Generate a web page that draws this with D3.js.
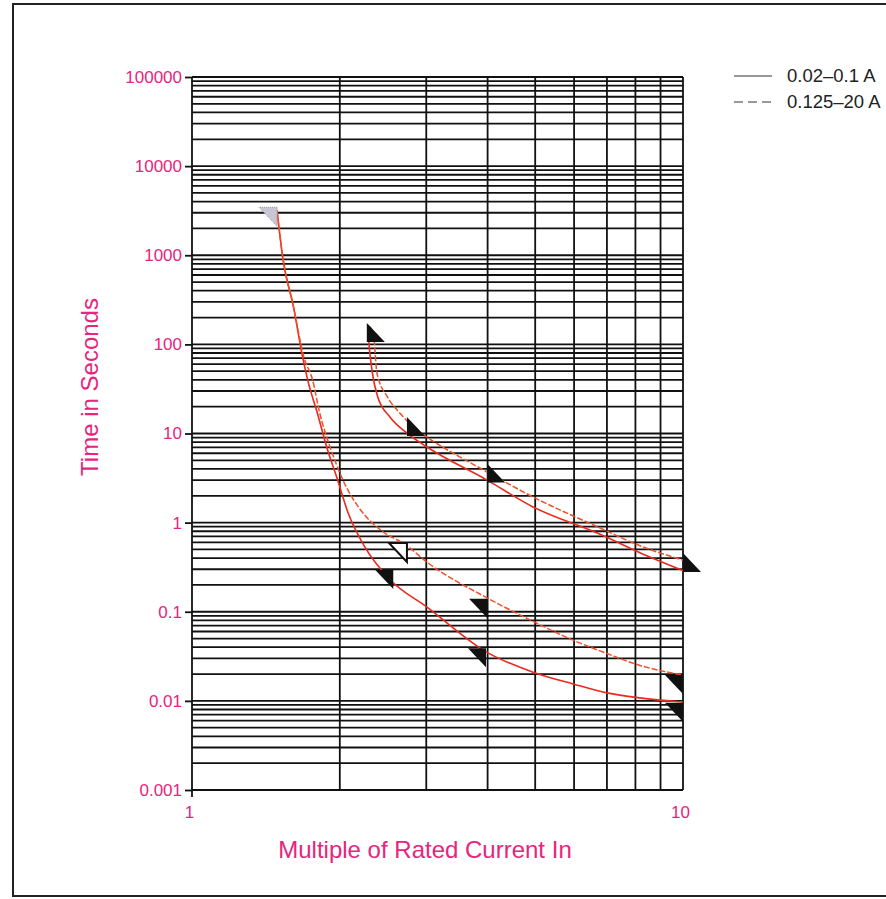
<!DOCTYPE html>
<html>
<head>
<meta charset="utf-8">
<script src="https://cdn.jsdelivr.net/npm/d3@7"></script>
<style>
  body { margin: 0; background: #fff; }
  svg text { font-family: "Liberation Sans", Arial, sans-serif; }
</style>
</head>
<body>
<div id="chart-area"></div>
<script>
// tick labels
var yTickValues = [0.001, 0.01, 0.1, 1, 10, 100, 1000, 10000, 100000];
var yTickLabels = ["0.001", "0.01", "0.1", "1", "10", "100", "1000", "10000", "100000"];
var xTickValues = [1, 10];
var xTickLabels = ["1", "10"];

// legend
var seriesNames = ["0.02\u20130.1 A", "0.125\u201320 A"];

// curves: [multiple of In, time in s]
var solidLeft = [[1.49, 3200], [1.53, 955], [1.61, 262], [1.68, 72], [1.72, 40], [1.80, 17], [1.88, 7.1],
    [1.98, 3.0], [2.08, 1.28], [2.25, 0.53], [2.53, 0.23], [3.01, 0.113], [3.99, 0.035], [4.95, 0.021],
    [5.97, 0.0155], [7.0, 0.0123], [8.17, 0.0108], [10, 0.0097]];
var dashedLeft = [[1.49, 3200], [1.53, 955], [1.61, 262], [1.69, 72], [1.76, 40], [1.82, 17], [1.91, 7.1],
    [2.03, 3.0], [2.23, 1.28], [2.42, 0.83], [2.74, 0.55], [3.01, 0.36], [3.99, 0.143], [4.88, 0.081],
    [5.97, 0.048], [7.0, 0.034], [8.17, 0.025], [10, 0.0195]];
var solidRight = [[2.28, 165], [2.29, 112], [2.33, 48], [2.39, 25.7], [2.53, 15.3], [2.74, 10.1], [3.01, 7.06],
    [3.99, 3.0], [4.95, 1.5], [6.78, 0.74], [8.17, 0.46], [10, 0.29]];
var dashedRight = [[2.28, 165], [2.34, 134], [2.38, 48], [2.50, 25.7], [2.65, 17], [2.87, 10.9], [3.01, 9.1],
    [3.99, 3.7], [4.95, 1.94], [6.78, 0.87], [8.17, 0.55], [10, 0.38]];

// triangle markers
var upperMarks = [[2.27, 174], [2.74, 15.3], [3.99, 4.6], [10, 0.456]];
var lowerMarks = [[2.57, 0.294], [3.99, 0.14], [3.97, 0.039], [10, 0.0195], [10, 0.0095]];
var openMarks = [[2.74, 0.59]];
var fadedMarks = [[1.49, 3450]];

var W = 886, H = 899;
var pink = "#e8247e";
var red = "#ea2a1c";

var svg = d3.select("#chart-area")
    .append("svg")
        .attr("width", W)
        .attr("height", H);

// frame
svg.append("path")
    .attr("d", "M886,4 H13 V896 H886")
    .attr("fill", "none")
    .attr("stroke", "#222")
    .attr("stroke-width", 2);

var x = d3.scaleLog().domain([1, 10]).range([192, 683]);
var y = d3.scaleLog().domain([0.001, 100000]).range([790, 77]);

// grid
var grid = svg.append("g").attr("stroke", "#111").attr("stroke-width", 1.8);
grid.selectAll(".h")
    .data(y.ticks())
    .enter().append("line")
        .attr("x1", x(1)).attr("x2", x(10))
        .attr("y1", d => y(d)).attr("y2", d => y(d));
grid.selectAll(".v")
    .data(x.ticks())
    .enter().append("line")
        .attr("x1", d => x(d)).attr("x2", d => x(d))
        .attr("y1", y(100000)).attr("y2", d => d == 1 ? y(0.001) + 7 : y(0.001));

// Y axis
var yAxis = svg.append("g")
    .attr("transform", "translate(" + x(1) + ",0)")
    .call(d3.axisLeft(y).tickValues(yTickValues).tickSize(7).tickPadding(3)
        .tickFormat((d, i) => yTickLabels[i]));
yAxis.select(".domain").remove();
yAxis.selectAll("line").attr("stroke", "#111").attr("stroke-width", 1.8);
yAxis.selectAll("text").attr("fill", pink).attr("font-size", "17px")
    .attr("font-family", "'Liberation Sans', Arial, sans-serif");

// X axis
var xAxis = svg.append("g")
    .attr("transform", "translate(0," + y(0.001) + ")")
    .call(d3.axisBottom(x).tickValues(xTickValues).tickSize(0).tickPadding(16)
        .tickFormat((d, i) => xTickLabels[i]));
xAxis.select(".domain").remove();
xAxis.selectAll("text").attr("fill", pink).attr("font-size", "17px").attr("dx", "-3")
    .attr("font-family", "'Liberation Sans', Arial, sans-serif");

// titles
svg.append("text")
    .attr("x", 425).attr("y", 858)
    .attr("text-anchor", "middle")
    .attr("font-size", "24px")
    .attr("fill", pink)
    .text("Multiple of Rated Current In");
svg.append("text")
    .attr("transform", "translate(98,387) rotate(-90)")
    .attr("text-anchor", "middle")
    .attr("font-size", "24px")
    .attr("fill", pink)
    .text("Time in Seconds");

// curves
var line = d3.line()
    .x(d => x(d[0]))
    .y(d => y(d[1]))
    .curve(d3.curveMonotoneX);

[solidLeft, solidRight].forEach(function(c) {
    svg.append("path").datum(c)
        .attr("d", line)
        .attr("fill", "none")
        .attr("stroke", red)
        .attr("stroke-width", 1.6);
});
[dashedLeft, dashedRight].forEach(function(c) {
    svg.append("path").datum(c)
        .attr("d", line)
        .attr("fill", "none")
        .attr("stroke", "#f0502a")
        .attr("stroke-width", 1.5)
        .attr("stroke-dasharray", "6,2");
});

// markers
var tw = 18, th = 19;
svg.selectAll(".up")
    .data(upperMarks)
    .enter().append("path")
        .attr("d", d => {
            var px = x(d[0]), py = y(d[1]);
            return "M" + px + "," + py + "V" + (py + th) + "H" + (px + tw) + "Z";
        })
        .attr("fill", "#111");
svg.selectAll(".low")
    .data(lowerMarks)
    .enter().append("path")
        .attr("d", d => {
            var px = x(d[0]), py = y(d[1]);
            return "M" + px + "," + py + "H" + (px - tw) + "L" + px + "," + (py + th) + "Z";
        })
        .attr("fill", "#111");
svg.selectAll(".open")
    .data(openMarks)
    .enter().append("path")
        .attr("d", d => {
            var px = x(d[0]), py = y(d[1]);
            return "M" + px + "," + py + "H" + (px - tw) + "L" + px + "," + (py + th) + "Z";
        })
        .attr("fill", "#fff")
        .attr("stroke", "#111")
        .attr("stroke-width", 2);
svg.selectAll(".faded")
    .data(fadedMarks)
    .enter().append("path")
        .attr("d", d => {
            var px = x(d[0]), py = y(d[1]);
            return "M" + px + "," + py + "H" + (px - tw) + "L" + px + "," + (py + th) + "Z";
        })
        .attr("fill", "#c9c6d6")
        .attr("stroke", "#999")
        .attr("stroke-width", 1)
        .attr("stroke-dasharray", "1,1");

// legend
var legend = svg.append("g");
seriesNames.forEach(function(name, i) {
    var ly = 76 + i * 26;
    legend.append("line")
        .attr("x1", 734).attr("x2", 772)
        .attr("y1", ly).attr("y2", ly)
        .attr("stroke", "#333")
        .attr("stroke-width", 1)
        .attr("stroke-dasharray", i == 0 ? null : "9,5");
    legend.append("text")
        .attr("x", 787).attr("y", ly + 6)
        .attr("font-size", "18.5px")
        .attr("fill", "#222")
        .text(name);
});
</script>
</body>
</html>
